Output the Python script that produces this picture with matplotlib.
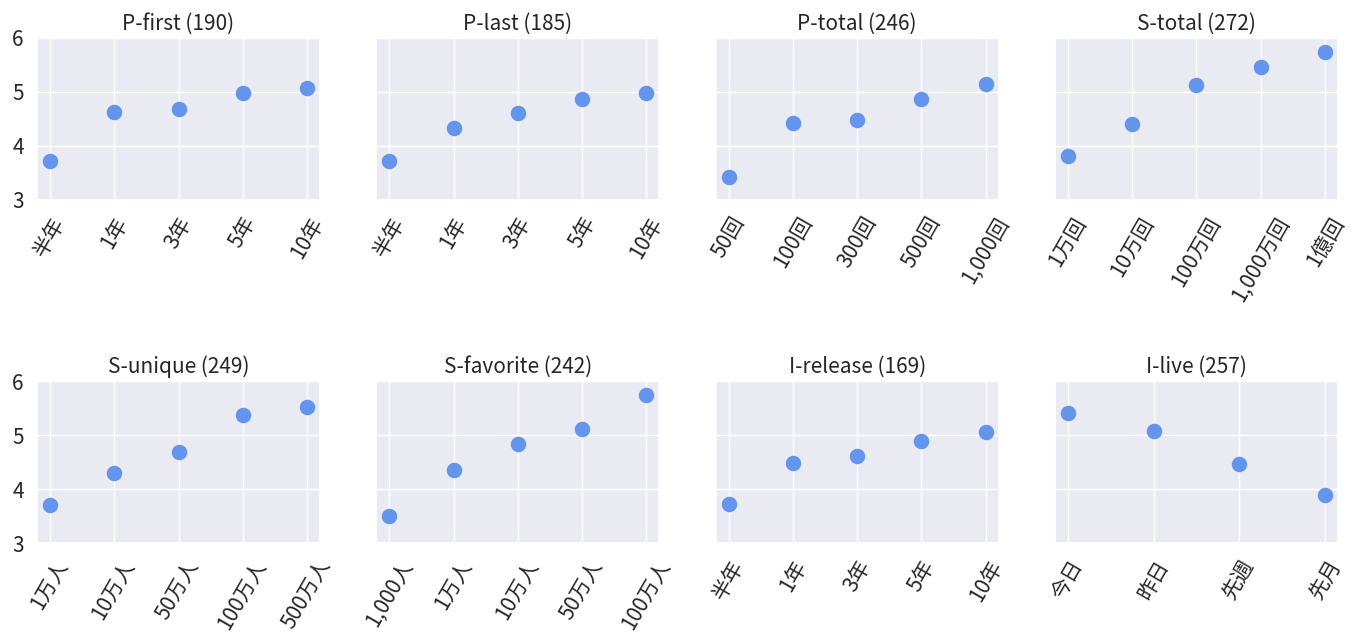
import matplotlib
matplotlib.use("Agg")
import matplotlib.pyplot as plt
import seaborn as sns

sns.set_theme(style="darkgrid")
plt.rcParams['font.family'] = ['Noto Sans CJK JP', 'DejaVu Sans']

titles = ["P-first (190)", "P-last (185)", "P-total (246)", "S-total (272)",
          "S-unique (249)", "S-favorite (242)", "I-release (169)", "I-live (257)"]

labels_p_first = ["半年", "1年", "3年", "5年", "10年"]
values_p_first = [3.71, 4.62, 4.69, 4.98, 5.08]

labels_p_last = ["半年", "1年", "3年", "5年", "10年"]
values_p_last = [3.72, 4.33, 4.60, 4.87, 4.98]

labels_p_total = ["50回", "100回", "300回", "500回", "1,000回"]
values_p_total = [3.43, 4.43, 4.48, 4.86, 5.14]

labels_s_total = ["1万回", "10万回", "100万回", "1,000万回", "1億回"]
values_s_total = [3.81, 4.41, 5.12, 5.46, 5.74]

labels_s_unique = ["1万人", "10万人", "50万人", "100万人", "500万人"]
values_s_unique = [3.70, 4.29, 4.69, 5.38, 5.52]

labels_s_favorite = ["1,000人", "1万人", "10万人", "50万人", "100万人"]
values_s_favorite = [3.51, 4.35, 4.84, 5.11, 5.74]

labels_i_release = ["半年", "1年", "3年", "5年", "10年"]
values_i_release = [3.72, 4.48, 4.62, 4.90, 5.06]

labels_i_live = ["今日", "昨日", "先週", "先月"]
values_i_live = [5.42, 5.07, 4.46, 3.89]

all_labels = [labels_p_first, labels_p_last, labels_p_total, labels_s_total,
              labels_s_unique, labels_s_favorite, labels_i_release, labels_i_live]
all_values = [values_p_first, values_p_last, values_p_total, values_s_total,
              values_s_unique, values_s_favorite, values_i_release, values_i_live]

fig, axes = plt.subplots(2, 4, figsize=(13.54, 6.37), dpi=100, sharey=True)
fig.subplots_adjust(left=37/1354, right=1338/1354, top=1-38/637, bottom=1-543/637,
                    wspace=0.199, hspace=1.123)

for ax, title, labs, vals in zip(axes.flat, titles, all_labels, all_values):
    x = list(range(len(labs)))
    ax.scatter(x, vals, s=125, color="#6495ED", linewidths=0, zorder=3)
    ax.set_xticks(x)
    ax.set_xticklabels(labs, rotation=60, fontsize=15)
    ax.set_title(title, fontsize=15)
    ax.set_ylim(3, 6)
    ax.set_yticks([3, 4, 5, 6])
    ax.tick_params(axis='y', labelsize=15)
    ax.margins(x=0.05)

fig.savefig("out.png", dpi=100)
